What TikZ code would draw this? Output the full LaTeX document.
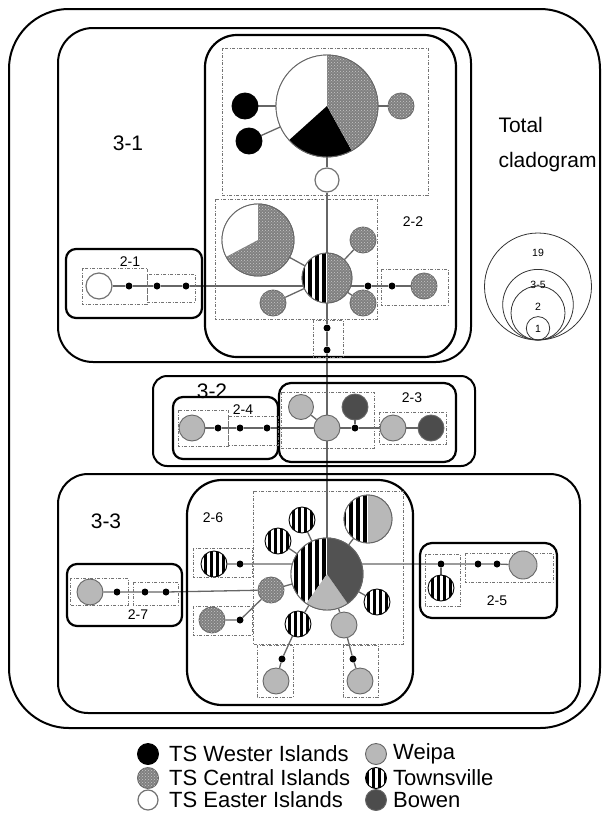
\documentclass[tikz,border=0pt]{standalone}
\usepackage{fontspec}
\setmainfont{Liberation Sans}
\usetikzlibrary{patterns,backgrounds}
\newcommand\pieSec[5]{\fill[#5] (#1.center) -- ++(-#3:#2) arc[start angle=-#3, end angle=-#4, radius=#2] -- cycle;}
\newcommand\pieStr[4]{\begin{scope}\clip (#1.center) -- ++(-#3:#2) arc[start angle=-#3, end angle=-#4, radius=#2] -- cycle;
 \fill[white] (#1.center) circle[radius=#2];
 \foreach \i in {-66,-59,...,66} {\fill[black] ([xshift=\i pt]#1.center) ++(-1.8,-80) rectangle ++(3.6,160);}
 \end{scope}}
\tikzset{
 conn/.style={draw=black!60, line width=1.3pt},
 dbox/.style={draw=black!55, line width=0.8pt, dash pattern=on 3pt off 1.5pt on 1pt off 1.5pt},
 frame/.style={draw=black, line width=2pt},
 gbox/.style={draw=black, line width=2.2pt},
 hap/.style={circle, inner sep=0pt, minimum size=26pt, line width=0.9pt},
 cenfill/.style={fill=black!50, postaction={pattern=crosshatch dots, pattern color=black!22}},
 wes/.style={hap, fill=black, draw=black},
 cen/.style={hap, draw=black!60, cenfill},
 eas/.style={hap, draw=black!55, fill=white, line width=1.2pt},
 wei/.style={hap, draw=black!60, fill=black!28},
 bow/.style={hap, draw=black!60, fill=black!70},
 tow/.style={hap, draw=black, fill=white, path picture={\foreach \i in {-21,-15,...,21} \fill[black] ([xshift=\i pt]path picture bounding box.center) ++(-1.5pt,-20pt) rectangle ++(3pt,40pt);}},
 pienode/.style={circle, inner sep=0pt, draw=black!60, line width=0.9pt},
 dot/.style={circle, fill=black, inner sep=0pt, minimum size=7pt},
 lab/.style={font=\fontsize{14}{16}\selectfont},
 biglab/.style={font=\fontsize{21}{24}\selectfont},
 leglab/.style={font=\fontsize{22}{24}\selectfont, anchor=west, inner sep=0pt},
 sizelab/.style={font=\fontsize{10.5}{12}\selectfont, inner sep=0pt},
 szc/.style={draw=black!80, line width=0.8pt},
}
\begin{document}
\begin{tikzpicture}[x=1pt,y=-1pt]
\useasboundingbox (0,0) rectangle (606,814);
% frames
\draw[frame, rounded corners=60pt] (9,9) rectangle (600,728);
\draw[frame, rounded corners=35pt] (58,28) rectangle (471,362);
\draw[gbox, rounded corners=32pt] (205,35) rectangle (456,357);
\draw[gbox, rounded corners=10pt] (66,249) rectangle (202,318);
\draw[frame, rounded corners=14pt] (153,376) rectangle (475,466);
\draw[gbox, rounded corners=10pt] (173,397) rectangle (278,459);
\draw[gbox, rounded corners=12pt] (279,383) rectangle (456,462);
\draw[frame, rounded corners=30pt] (58,474) rectangle (580,713);
\draw[gbox, rounded corners=35pt] (187,480) rectangle (413,705);
\draw[gbox, rounded corners=10pt] (67,564) rectangle (182,626);
\draw[gbox, rounded corners=12pt] (420,543) rectangle (557,618);
% dashed boxes
\draw[dbox] (222,48) rectangle (428,195);
\draw[dbox] (215,199) rectangle (377,319);
\draw[dbox] (381,269) rectangle (448,305);
\draw[dbox] (313,320) rectangle (343,357);
\draw[dbox] (82,268) rectangle (147,304);
\draw[dbox] (147,274) rectangle (195,302);
\draw[dbox] (178,410) rectangle (228,446);
\draw[dbox] (228,416) rectangle (278,445);
\draw[dbox] (281,392) rectangle (374,448);
\draw[dbox] (379,412) rectangle (446,444);
\draw[dbox] (253,491) rectangle (403,644);
\draw[dbox] (193,548) rectangle (252,577);
\draw[dbox] (193,606) rectangle (252,635);
\draw[dbox] (257,645) rectangle (293,697);
\draw[dbox] (343,645) rectangle (378,697);
\draw[dbox] (70,578) rectangle (128,605);
\draw[dbox] (133,582) rectangle (178,605);
\draw[dbox] (425,554) rectangle (460,606);
\draw[dbox] (465,553) rectangle (553,582);
% ---- nodes: top (2-2)
\node[pienode, minimum size=102pt] (P1) at (327,106) {};
\node[wes] (W1) at (245,106) {};
\node[wes] (W2) at (249,141) {};
\node[cen] (C1) at (401,106) {};
\node[eas, minimum size=24pt] (E1) at (327,180) {};
\node[pienode, minimum size=72pt] (P2) at (258,240) {};
\node[pienode, minimum size=50pt] (T1) at (327,278) {};
\node[cen] (C2) at (363,240) {};
\node[cen] (C3) at (273,303) {};
\node[cen] (C4) at (363,303) {};
\node[dot] (d1) at (368,286) {};
\node[dot] (d2) at (392,286) {};
\node[cen] (C5) at (424,286) {};
\node[dot] (dv1) at (327,328) {};
\node[dot] (dv2) at (327,350) {};
% 2-1
\node[eas] (E2) at (99,286) {};
\node[dot] (a1) at (129,286) {};
\node[dot] (a2) at (157,286) {};
\node[dot] (a3) at (186,286) {};
% 3-2
\node[wei] (Wp1) at (192,428) {};
\node[dot] (b1) at (218,428) {};
\node[dot] (b2) at (240,428) {};
\node[dot] (b3) at (267,428) {};
\node[wei, minimum size=25pt] (Wp2) at (301,407) {};
\node[bow] (B1) at (355,407) {};
\node[wei] (Wp3) at (327,428) {};
\node[dot] (b4) at (355,428) {};
\node[wei] (Wp4) at (393,428) {};
\node[bow] (B2) at (431,428) {};
% 3-3
\node[pienode, minimum size=72pt] (P3) at (327,574) {};
\node[pienode, minimum size=48pt] (P4) at (368,519) {};
\node[tow] (S1) at (302,520) {};
\node[tow] (S2) at (278,541) {};
\node[tow] (S3) at (377,602) {};
\node[tow] (S4) at (298,624) {};
\node[wei] (Wp7) at (344,625) {};
\node[cen] (C6) at (271,590) {};
\node[tow] (tS) at (214,564) {};
\node[dot] (f1) at (240,564) {};
\node[cen] (C7) at (212,620) {};
\node[dot] (h1) at (240,620) {};
\node[wei] (Wp5) at (90,592) {};
\node[dot] (g1) at (117,592) {};
\node[dot] (g2) at (145,592) {};
\node[dot] (g3) at (166,592) {};
\node[dot] (e1) at (441,564) {};
\node[tow] (T5) at (441,588) {};
\node[dot] (e2) at (478,564) {};
\node[dot] (e3) at (497,564) {};
\node[wei, minimum size=28pt] (Wp6) at (523,565) {};
\node[dot] (k1) at (282,659) {};
\node[wei] (Wp8) at (276,681) {};
\node[dot] (k2) at (353,659) {};
\node[wei] (Wp9) at (360,681) {};
% pies
\pieSec{P1}{51}{90}{222}{fill=white}
\pieSec{P1}{51}{222}{299}{fill=black}
\pieSec{P1}{51}{299}{450}{cenfill}
\draw[black!60, line width=0.9pt] (P1.center) circle[radius=51];
\pieSec{P2}{36}{90}{208}{fill=white}
\pieSec{P2}{36}{208}{450}{cenfill}
\draw[black!60, line width=0.9pt] (P2.center) circle[radius=36];
\pieStr{T1}{25}{90}{270}
\pieSec{T1}{25}{270}{450}{cenfill}
\draw[black!60, line width=0.9pt] (T1.center) circle[radius=25];
\pieStr{P3}{36}{90}{235}
\pieSec{P3}{36}{235}{305}{fill=black!28}
\pieSec{P3}{36}{305}{450}{fill=black!68}
\draw[black!60, line width=0.9pt] (P3.center) circle[radius=36];
\pieStr{P4}{24}{90}{270}
\pieSec{P4}{24}{270}{450}{fill=black!28}
\draw[black!60, line width=0.9pt] (P4.center) circle[radius=24];
% connectors
\begin{scope}[on background layer]
\draw[conn] (P1) -- (W1);
\draw[conn] (P1) -- (W2);
\draw[conn] (P1) -- (C1);
\draw[conn] (P1) -- (E1);
\draw[conn] (E1) -- (dv1) -- (dv2) -- (Wp3) -- (P3);
\draw[conn] (T1) -- (P2);
\draw[conn] (T1) -- (C2);
\draw[conn] (T1) -- (C3);
\draw[conn] (T1) -- (C4);
\draw[conn] (E2) -- (a1) -- (a2) -- (a3) -- (d1) -- (d2) -- (C5);
\draw[conn] (Wp1) -- (b1) -- (b2) -- (b3) -- (Wp3) -- (b4) -- (Wp4) -- (B2);
\draw[conn] (B1) -- (b4);
\draw[conn] (Wp2) -- (Wp3);
\draw[conn] (tS) -- (f1) -- (e1) -- (e2) -- (e3) -- (Wp6);
\draw[conn] (e1) -- (T5);
\draw[conn] (Wp5) -- (g1) -- (g2) -- (g3) -- (C6);
\draw[conn] (C6) -- (P3);
\draw[conn] (C6) -- (h1) -- (C7);
\draw[conn] (P3) -- (P4);
\draw[conn] (P3) -- (S1);
\draw[conn] (P3) -- (S2);
\draw[conn] (P3) -- (S3);
\draw[conn] (P3) -- (S4);
\draw[conn] (P3) -- (Wp7);
\draw[conn] (S4) -- (k1) -- (Wp8);
\draw[conn] (Wp7) -- (k2) -- (Wp9);
\end{scope}
% labels
\node[biglab] (L31) at (128,143) {3-1};
\node[biglab] (L32) at (212,391) {3-2};
\node[biglab] (L33) at (106,521) {3-3};
\node[lab] (L21) at (130,262) {2-1};
\node[lab] (L22) at (413,222) {2-2};
\node[lab] (L23) at (412,398) {2-3};
\node[lab] (L24) at (243,410) {2-4};
\node[lab] (L25) at (497,601) {2-5};
\node[lab] (L26) at (213,518) {2-6};
\node[lab] (L27) at (138,615) {2-7};
\node[biglab, anchor=west] (tot) at (495,125) {Total};
\node[biglab, anchor=west] (clad) at (495,162) {cladogram};
% size legend
\draw[szc] (538,286.5) circle[radius=53.5];
\draw[szc] (538,304.7) circle[radius=35.3];
\draw[szc] (538,313) circle[radius=27];
\draw[szc] (538,328.3) circle[radius=11.7];
\node[sizelab] (n19) at (538,253) {19};
\node[sizelab] (n35) at (538,285) {3-5};
\node[sizelab] (n2) at (538,307) {2};
\node[sizelab] (n1) at (538,329) {1};
% legend
\node[wes, minimum size=21pt] (kw) at (148,754) {};
\node[cen, minimum size=21pt] (kc) at (148,778) {};
\node[eas, minimum size=20pt] (ke) at (148,800) {};
\node[wei, minimum size=21pt] (kp) at (376,754) {};
\node[tow, minimum size=21pt] (kt) at (376,778) {};
\node[bow, minimum size=21pt] (kb) at (376,800) {};
\node[leglab] (tw) at (169,754) {TS Wester Islands};
\node[leglab] (tc) at (169,778) {TS Central Islands};
\node[leglab] (te) at (169,800) {TS Easter Islands};
\node[leglab] (tp) at (393,754) {Weipa};
\node[leglab] (tt) at (393,778) {Townsville};
\node[leglab] (tb) at (393,800) {Bowen};
\end{tikzpicture}
\end{document}
